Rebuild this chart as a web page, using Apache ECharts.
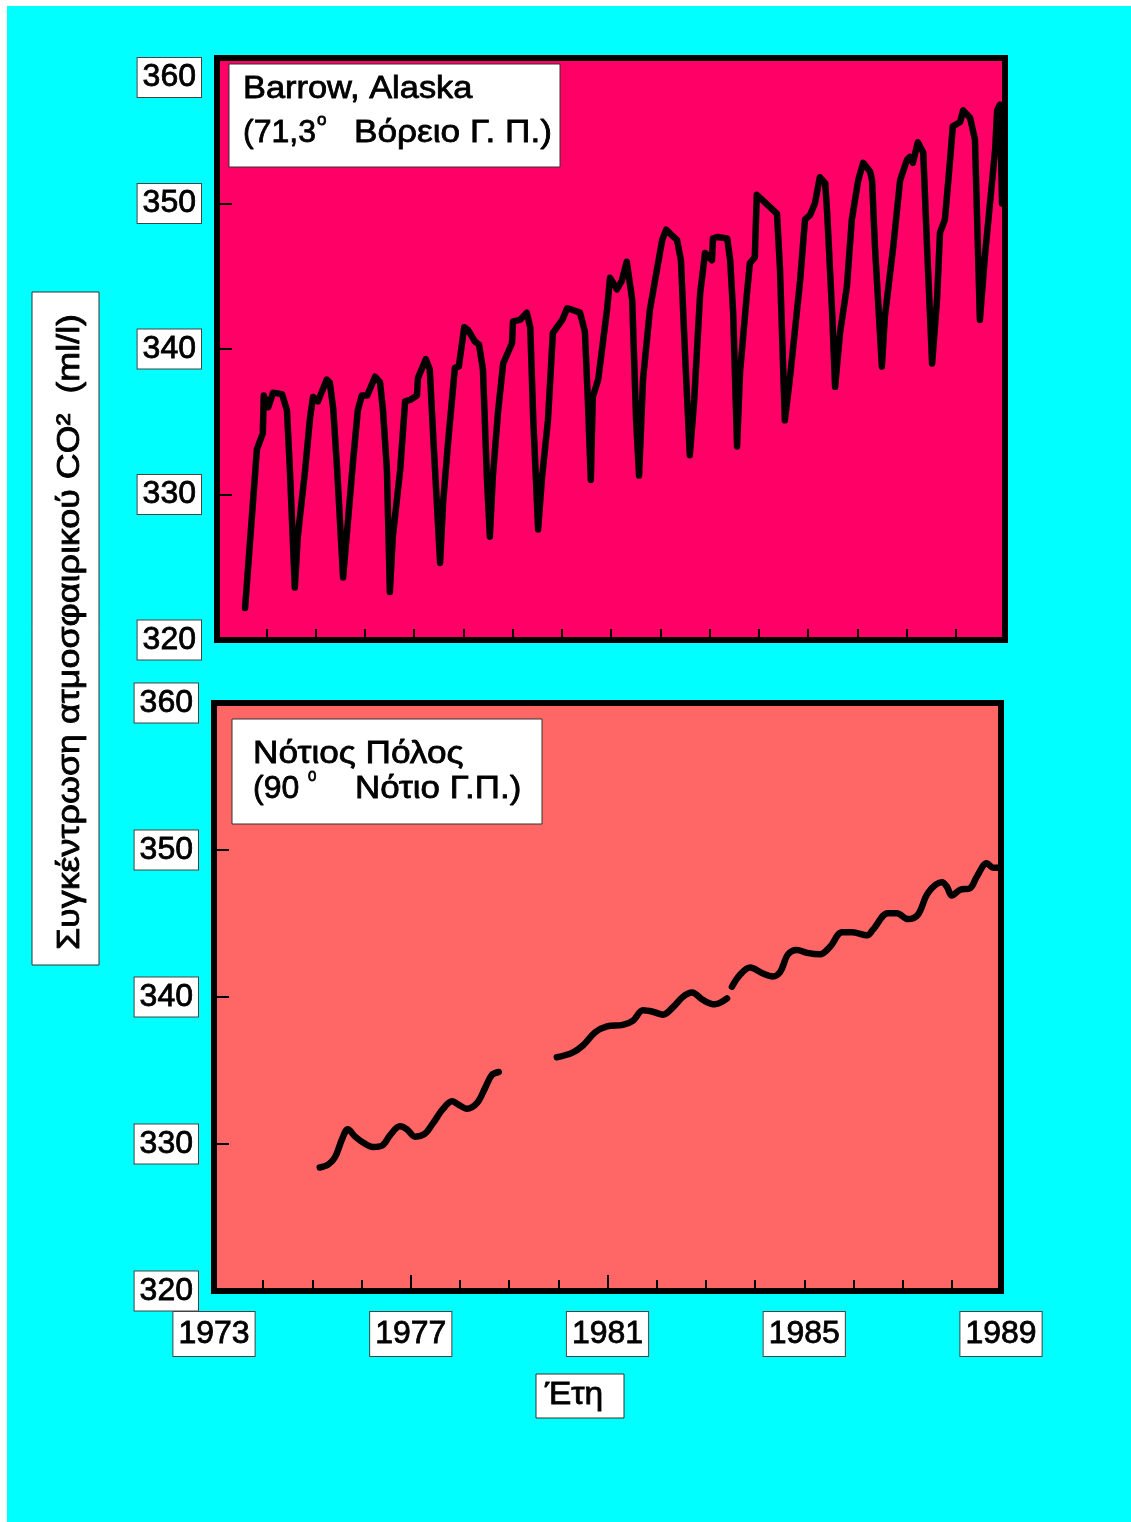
<!DOCTYPE html>
<html>
<head>
<meta charset="utf-8">
<script src="https://cdn.jsdelivr.net/npm/echarts@6/dist/echarts.min.js"></script>
<style>
  html, body { margin: 0; padding: 0; background: #fff; overflow: hidden; }
  #frame { position: absolute; left: 7px; top: 6px; right: 0; bottom: 0; background: #00ffff; }
  #chart { position: absolute; left: 0; top: 0; width: 1131px; height: 1522px; }
</style>
</head>
<body>
<div id="frame"></div>
<div id="chart"></div>
<script>
// Axis tick labels
const yearTicks = [1973, 1977, 1981, 1985, 1989];
const majorTickYears = [1977, 1981];
const co2Ticks = [320, 330, 340, 350, 360];

// Barrow, Alaska (71.3° N) — CO2 concentration vs. decimal year
const barrowYears = [1973.57,1973.81,1973.93,1973.95,1974.04,1974.14,1974.32,1974.42,1974.48,1974.58,
  1974.64,1974.79,1974.89,1974.95,1975.05,1975.23,1975.29,1975.36,1975.44,1975.56,
  1975.64,1975.76,1975.86,1975.94,1976.05,1976.21,1976.31,1976.37,1976.45,1976.51,
  1976.57,1976.72,1976.82,1976.92,1977.06,1977.08,1977.24,1977.32,1977.39,1977.53,
  1977.59,1977.69,1977.83,1977.91,1978.02,1978.10,1978.24,1978.32,1978.40,1978.48,
  1978.54,1978.60,1978.71,1978.81,1978.99,1979.01,1979.15,1979.29,1979.36,1979.42,
  1979.52,1979.60,1979.72,1979.82,1980.01,1980.11,1980.21,1980.37,1980.47,1980.53,
  1980.59,1980.63,1980.74,1980.92,1980.98,1981.12,1981.22,1981.32,1981.43,1981.51,
  1981.57,1981.65,1981.79,1981.93,1982.04,1982.12,1982.24,1982.34,1982.42,1982.50,
  1982.60,1982.69,1982.81,1982.91,1983.05,1983.07,1983.17,1983.36,1983.42,1983.48,
  1983.56,1983.62,1983.76,1983.82,1983.92,1983.96,1984.37,1984.43,1984.53,1984.63,
  1984.84,1984.94,1985.04,1985.14,1985.24,1985.35,1985.39,1985.49,1985.55,1985.65,
  1985.79,1985.89,1986.02,1986.12,1986.26,1986.30,1986.36,1986.50,1986.56,1986.73,
  1986.87,1987.01,1987.07,1987.13,1987.23,1987.34,1987.42,1987.52,1987.62,1987.68,
  1987.78,1987.88,1987.94,1988.09,1988.15,1988.29,1988.39,1988.49,1988.59,1988.74,
  1988.80,1988.84,1988.90,1988.94];
const barrowCO2 = [322.2,333.1,334.2,336.8,336.0,337.0,336.9,335.8,331.7,323.6,
  327.1,331.7,335.3,336.7,336.4,337.9,337.7,335.9,331.7,324.3,
  327.4,332.2,335.8,336.8,336.8,338.1,337.7,335.8,331.7,323.3,
  327.1,331.7,336.4,336.5,336.8,338.0,339.3,338.6,334.0,325.3,
  329.4,333.5,338.7,338.8,341.5,341.3,340.5,340.3,338.6,331.2,
  327.1,331.2,335.8,339.0,340.4,341.9,342.0,342.5,341.5,335.3,
  327.6,331.2,335.1,341.1,342.0,342.8,342.7,342.5,341.2,336.5,
  331.0,336.7,337.9,342.7,344.9,344.1,344.7,346.0,343.4,335.1,
  331.3,337.9,342.7,345.4,347.5,348.2,347.8,347.5,346.1,339.9,
  332.7,336.5,343.8,346.6,346.1,347.6,347.7,347.6,346.1,342.5,
  333.3,338.4,343.8,345.9,346.3,350.6,349.3,345.6,335.1,337.9,
  344.7,348.9,349.2,350.0,351.8,351.4,349.3,342.5,337.4,341.1,
  344.3,348.9,351.6,352.8,352.2,351.6,347.0,338.8,342.2,347.0,
  351.6,353.0,353.2,352.8,354.2,353.5,346.8,339.0,343.4,348.0,
  348.9,352.8,355.3,355.6,356.4,355.9,354.4,342.0,346.3,351.6,
  353.7,356.4,356.8,350.0];

// South Pole (90° S) — null marks a break in the record
const southPoleYears = [1975.15,1975.32,1975.46,1975.60,1975.72,1975.87,1976.03,1976.23,1976.42,1976.58,
  1976.78,1976.92,1977.09,1977.29,1977.45,1977.66,1977.84,1977.96,1978.14,1978.35,
  1978.51,1978.65,1978.79,null,
  1979.97,1980.28,1980.50,1980.75,1980.99,1981.31,1981.52,1981.72,1981.92,1982.13,
  1982.33,1982.53,1982.72,1982.94,1983.18,1983.43,null,
  1983.53,1983.69,1983.90,1984.16,1984.36,1984.51,1984.67,1984.85,1985.06,1985.32,
  1985.52,1985.77,1985.97,1986.28,1986.40,1986.70,1986.88,1987.11,1987.31,1987.52,
  1987.80,1987.90,1988.00,1988.17,1988.37,1988.51,1988.71,1988.84,1988.94];
const southPoleCO2 = [328.4,328.6,329.1,330.3,331.0,330.5,330.1,329.8,329.9,330.6,
  331.2,331.0,330.5,330.7,331.4,332.4,332.9,332.7,332.4,332.8,
  333.8,334.7,334.9,null,
  335.9,336.2,336.7,337.6,338.0,338.1,338.4,339.1,339.0,338.8,
  339.3,340.0,340.3,339.8,339.5,339.9,null,
  340.7,341.5,342.0,341.6,341.4,341.7,342.9,343.2,343.0,342.9,
  343.4,344.4,344.4,344.2,344.6,345.7,345.7,345.3,345.6,347.1,
  347.8,347.5,346.9,347.3,347.4,348.2,349.1,348.8,348.8];

const FONT = '"Liberation Sans", Arial, Helvetica, sans-serif';

function pairs(xs, ys) {
  return xs.map((x, i) => (x == null || ys[i] == null) ? ['-', '-'] : [x, ys[i]]);
}

const boxLabel = {
  color: '#000', fontFamily: FONT, fontSize: 32, lineHeight: 35,
  textBorderColor: '#000', textBorderWidth: 0.8,
  backgroundColor: '#fff', borderColor: '#444', borderWidth: 1, padding: [2, 5, 2, 5]
};

function yearAxis(gridIndex, withLabels) {
  return {
    type: 'value', gridIndex, position: 'bottom', min: 1973, max: 1989, interval: 1,
    axisLine: { show: false, onZero: false },
    axisTick: { show: true, inside: true, length: 11, lineStyle: { color: '#000', width: 2 } },
    splitLine: { show: false },
    axisLabel: withLabels
      ? Object.assign({}, boxLabel, { margin: 21, lineHeight: 36, padding: [4, 5, 4, 5],
          customValues: yearTicks, formatter: v => String(v),
          showMinLabel: true, showMaxLabel: true, hideOverlap: false })
      : { show: false }
  };
}

function co2Axis(gridIndex, alignMaxTop) {
  const label = Object.assign({}, boxLabel, { margin: 16, customValues: co2Ticks,
    formatter: v => String(v), showMinLabel: true, showMaxLabel: true, hideOverlap: false });
  if (alignMaxTop) label.verticalAlignMaxLabel = 'top';
  return {
    type: 'value', gridIndex, position: 'left', min: 320, max: 360, interval: 10,
    axisLine: { show: false, onZero: false },
    axisTick: { show: true, inside: true, length: 15, lineStyle: { color: '#000', width: 2 } },
    splitLine: { show: false },
    axisLabel: label
  };
}

const lineStyle = { color: '#000', width: 6.5, cap: 'round', join: 'round' };

function boxRect(x, y, w, h) {
  return { type: 'rect', z: 20, shape: { x, y, width: w, height: h },
    style: { fill: '#fff', stroke: '#333', lineWidth: 1 } };
}
function label(text, x, y, size, stretch) {
  return { type: 'text', z: 21, x, y, scaleX: stretch || 1,
    style: { text, font: size + 'px ' + FONT, fill: '#000', stroke: '#000', lineWidth: 0.8,
      align: 'left', verticalAlign: 'middle', textAlign: 'left', textVerticalAlign: 'middle' } };
}

const chart = echarts.init(document.getElementById('chart'), null, { renderer: 'canvas' });
chart.setOption({
  backgroundColor: 'transparent',
  animation: false,
  grid: [
    { left: 217, top: 58, width: 788, height: 582, show: true,
      backgroundColor: '#ff0066', borderColor: '#000', borderWidth: 6 },
    { left: 214, top: 703, width: 787, height: 588, show: true,
      backgroundColor: '#ff6666', borderColor: '#000', borderWidth: 6 }
  ],
  xAxis: [
    yearAxis(0, false),
    yearAxis(1, true),
    { type: 'value', gridIndex: 1, position: 'bottom', min: 1973, max: 1989,
      axisLine: { show: false, onZero: false }, splitLine: { show: false }, axisLabel: { show: false },
      axisTick: { show: true, inside: true, length: 16, customValues: majorTickYears,
        lineStyle: { color: '#000', width: 2 } } }
  ],
  yAxis: [co2Axis(0, true), co2Axis(1, false)],
  series: [
    { type: 'line', xAxisIndex: 0, yAxisIndex: 0, data: pairs(barrowYears, barrowCO2),
      showSymbol: false, symbol: 'none', smooth: false, lineStyle, z: 5 },
    { type: 'line', xAxisIndex: 1, yAxisIndex: 1, data: pairs(southPoleYears, southPoleCO2),
      showSymbol: false, symbol: 'none', smooth: 0.35, connectNulls: false, lineStyle, z: 5 }
  ],
  graphic: [
    // vertical axis title
    boxRect(32, 292, 67, 673),
    { type: 'text', z: 21, x: 70, y: 632, rotation: Math.PI / 2, scaleX: 1.12,
      style: { text: 'Συγκέντρωση ατμοσφαιρικού CO²  (ml/l)', font: '32px ' + FONT, fill: '#000',
        stroke: '#000', lineWidth: 0.8,
        align: 'center', verticalAlign: 'middle', textAlign: 'center', textVerticalAlign: 'middle' } },
    // Barrow station box
    boxRect(229, 64, 331, 103),
    label('Barrow, Alaska', 243, 89, 32, 1.075),
    label('(71,3', 243, 133, 32),
    label('o', 317, 120, 17),
    label('Βόρειο Γ. Π.)', 354, 133, 32, 1.1),
    // South Pole station box
    boxRect(232, 719, 310, 105),
    label('Νότιος Πόλος', 253, 754, 32, 1.1),
    label('(90', 253, 789, 32),
    label('0', 308, 777, 15),
    label('Νότιο Γ.Π.)', 355, 789, 32, 1.09),
    // horizontal axis title
    boxRect(536, 1374, 88, 44),
    label('Έτη', 545, 1395, 32, 1.05)
  ]
});
</script>
</body>
</html>
